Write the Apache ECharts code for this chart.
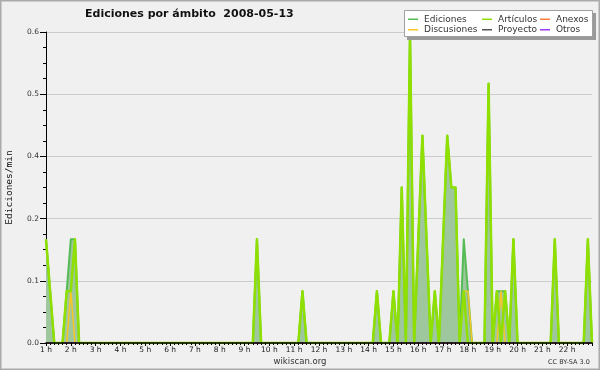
<!DOCTYPE html>
<html>
<head>
<meta charset="utf-8">
<script src="https://cdn.jsdelivr.net/npm/echarts@6/dist/echarts.min.js"></script>
<style>html,body{margin:0;padding:0;background:#f0f0f0}#c{width:600px;height:370px}</style>
</head>
<body>
<div id="c"></div>
<script>
// 10-minute bins, starting at 1 h; one row per hour
const startHour = 1;
const binsPerHour = 6;
const ediciones = [
  0.2,0.1,0,0,0,0.1,   // 1 h
  0.2,0.2,0,0,0,0,     // 2 h
  0,0,0,0,0,0,         // 3 h
  0,0,0,0,0,0,         // 4 h
  0,0,0,0,0,0,         // 5 h
  0,0,0,0,0,0,         // 6 h
  0,0,0,0,0,0,         // 7 h
  0,0,0,0,0,0,         // 8 h
  0,0,0,0.2,0,0,       // 9 h
  0,0,0,0,0,0,         // 10 h
  0,0,0.1,0,0,0,       // 11 h
  0,0,0,0,0,0,         // 12 h
  0,0,0,0,0,0,         // 13 h
  0,0,0.1,0,0,0,       // 14 h
  0.1,0,0.3,0,0.6,0,   // 15 h
  0.2,0.4,0.2,0,0.1,0, // 16 h
  0.2,0.4,0.3,0.3,0,0.2, // 17 h
  0.1,0,0,0,0,0.5,     // 18 h
  0,0.1,0.1,0.1,0,0.2, // 19 h
  0,0,0,0,0,0,         // 20 h
  0,0,0,0.2,0,0,       // 21 h
  0,0,0,0,0,0.2,       // 22 h
  0
];
const articulos = [
  0.2,0.1,0,0,0,0.1,
  0.1,0.2,0,0,0,0,
  0,0,0,0,0,0,
  0,0,0,0,0,0,
  0,0,0,0,0,0,
  0,0,0,0,0,0,
  0,0,0,0,0,0,
  0,0,0,0,0,0,
  0,0,0,0.2,0,0,
  0,0,0,0,0,0,
  0,0,0.1,0,0,0,
  0,0,0,0,0,0,
  0,0,0,0,0,0,
  0,0,0.1,0,0,0,
  0.1,0,0.3,0,0.6,0,
  0.2,0.4,0.2,0,0.1,0,
  0.2,0.4,0.3,0.3,0,0.1,
  0,0,0,0,0,0.5,
  0,0.1,0,0.1,0,0.2,
  0,0,0,0,0,0,
  0,0,0,0.2,0,0,
  0,0,0,0,0,0.2,
  0
];
const discusiones = [
  0,0,0,0,0,0,
  0.1,0,0,0,0,0,
  0,0,0,0,0,0,
  0,0,0,0,0,0,
  0,0,0,0,0,0,
  0,0,0,0,0,0,
  0,0,0,0,0,0,
  0,0,0,0,0,0,
  0,0,0,0,0,0,
  0,0,0,0,0,0,
  0,0,0,0,0,0,
  0,0,0,0,0,0,
  0,0,0,0,0,0,
  0,0,0,0,0,0,
  0,0,0,0,0,0,
  0,0,0,0,0,0,
  0,0,0,0,0,0.1,
  0.1,0,0,0,0,0,
  0,0,0.1,0,0,0,
  0,0,0,0,0,0,
  0,0,0,0,0,0,
  0,0,0,0,0,0,
  0
];
const zeros = ediciones.map(() => 0); // Proyecto, Anexos, Otros: no edits
const proyecto = zeros, anexos = zeros, otros = zeros;

const yTicks = {min: 0, max: 0.6, interval: 0.12};
const xHours = {min: 1, max: 23};

const FONT = 'DejaVu Sans';
function pts(arr){ return arr.map((v,i)=>[startHour + i/binsPerHour, v]); }

const chart = echarts.init(document.getElementById('c'), null, {renderer:'canvas'});
function lineSeries(name, data, color, width, z, extra){
  return Object.assign({
    name, type:'line', data: pts(data), showSymbol:false, symbol:'none',
    color, lineStyle:{color, width, join:'round'}, z, animation:false
  }, extra||{});
}
chart.setOption({
  backgroundColor:'#f0f0f0',
  animation:false,
  grid:{left:46, top:32, right:8, bottom:27, containLabel:false, outerBoundsMode:'none'},
  xAxis:{
    type:'value', min:xHours.min, max:xHours.max, interval:1, z:10,
    axisLine:{lineStyle:{color:'#000', width:1.5}},
    axisTick:{length:3, lineStyle:{color:'#000'}},
    minorTick:{show:true, splitNumber:6, length:2, lineStyle:{color:'#000'}},
    splitLine:{show:false},
    axisLabel:{fontFamily:FONT, fontSize:7.5, color:'#222', margin:3,
      formatter:v=> v>=xHours.max ? '' : v+' h'}
  },
  yAxis:{
    type:'value', min:yTicks.min, max:yTicks.max, interval:yTicks.interval,
    name:'Ediciones/min', nameLocation:'middle', nameGap:31,
    nameTextStyle:{fontFamily:'DejaVu Sans Mono', fontSize:9.5, color:'#111'},
    axisLine:{show:true, lineStyle:{color:'#000', width:1}},
    axisTick:{show:true, length:6, lineStyle:{color:'#000'}},
    minorTick:{show:true, splitNumber:4, length:3, lineStyle:{color:'#000'}},
    splitLine:{show:true, lineStyle:{color:'#cccccc', width:1}},
    axisLabel:{fontFamily:FONT, fontSize:7.5, color:'#333', margin:7,
      formatter:v=>v.toFixed(1)}
  },
  legend:[
    {data:['Ediciones','Discusiones'], left:408, top:14},
    {data:['Artículos','Proyecto'], left:482, top:14},
    {data:['Anexos','Otros'], left:540, top:14}
  ].map(l=>Object.assign(l,{orient:'vertical', icon:'rect', itemWidth:10, itemHeight:1.5,
      itemGap:0, padding:0, z:60,
      textStyle:{fontFamily:FONT, fontSize:9, color:'#333', lineHeight:10.5, padding:[0,0,0,1]}})),
  series:[
    lineSeries('Ediciones', ediciones, '#55bb55', 2, 2,
      {areaStyle:{color:'#9ec79e', opacity:1}}),
    lineSeries('Discusiones', discusiones, '#f7c625', 1.5, 3),
    lineSeries('Proyecto', proyecto, '#555555', 1, 3),
    lineSeries('Anexos', anexos, '#ff7f3f', 1, 3),
    lineSeries('Otros', otros, '#9a3cff', 1, 3),
    lineSeries('Artículos', articulos, '#8fe000', 2.5, 4)
  ],
  graphic:[
    {type:'rect', z:50, shape:{x:407, y:13, width:189, height:27}, style:{fill:'#9a9a9a'}},
    {type:'rect', z:51, shape:{x:404.5, y:10.5, width:188, height:26}, style:{fill:'#ffffff', stroke:'#a0a0a0', lineWidth:1}},
    {type:'text', z:50, x:85, y:14, style:{text:'Ediciones por ámbito  2008-05-13', fontFamily:FONT, fontWeight:'bold', fontSize:11, fill:'#111', textVerticalAlign:'middle'}},
    {type:'text', z:50, x:300, y:361.5, style:{text:'wikiscan.org', fontFamily:FONT, fontSize:8.5, fill:'#333', textAlign:'center', textVerticalAlign:'middle'}},
    {type:'text', z:50, x:548, y:362.5, style:{text:'CC BY-SA 3.0', fontFamily:FONT, fontSize:6.5, fill:'#333', textVerticalAlign:'middle'}},
    {type:'rect', z:50, shape:{x:0.75, y:0.75, width:598.5, height:368.5}, style:{fill:null, stroke:'#aaaaaa', lineWidth:1.5}}
  ]
});
</script>
</body>
</html>
